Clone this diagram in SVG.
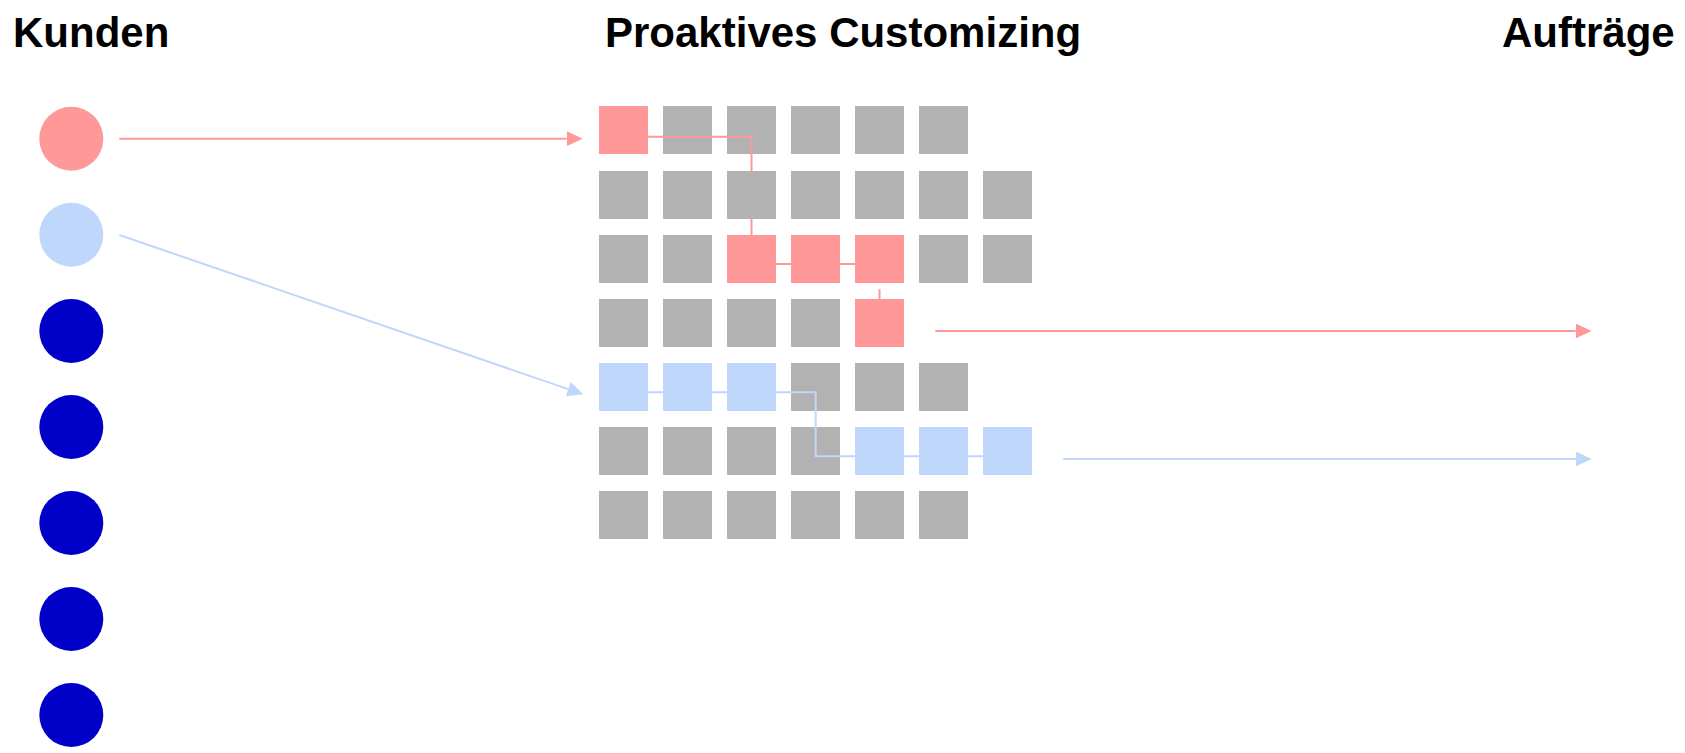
<svg xmlns="http://www.w3.org/2000/svg" width="1685" height="753" viewBox="0 0 1685 753">
<style>
.t{font-family:"Liberation Sans",Arial,sans-serif;font-weight:bold;font-size:42px;fill:#000}
.g{fill:#B2B2B2}
.p{fill:#FF9999}
.b{fill:#BFD7FA}
.d{fill:#0000C8}
.lp{stroke:#FF9999;stroke-width:2;fill:none}
.lb{stroke:#BFD7FA;stroke-width:2;fill:none}
</style>
<defs>
<marker id="ap" markerUnits="userSpaceOnUse" markerWidth="17" markerHeight="16" refX="0" refY="7.5" orient="auto" viewBox="0 0 17 16"><path d="M0,0 L16,7.5 L0,15 Z" fill="#FF9999"/></marker>
<marker id="ab" markerUnits="userSpaceOnUse" markerWidth="17" markerHeight="16" refX="0" refY="7.5" orient="auto" viewBox="0 0 17 16"><path d="M0,0 L16,7.5 L0,15 Z" fill="#BFD7FA"/></marker>
<symbol id="sq"><rect width="49" height="48"/></symbol>
</defs>
<rect width="1685" height="753" fill="#fff"/>
<g id="titles">
<text class="t" x="13" y="47">Kunden</text>
<text class="t" x="605" y="47">Proaktives Customizing</text>
<text class="t" x="1502" y="47">Aufträge</text>
</g>
<g id="kunden">
<circle id="k1" class="p" cx="71.3" cy="138.7" r="32"/>
<circle id="k2" class="b" cx="71.3" cy="234.7" r="32"/>
<circle id="k3" class="d" cx="71.3" cy="331" r="32"/>
<circle id="k4" class="d" cx="71.3" cy="427" r="32"/>
<circle id="k5" class="d" cx="71.3" cy="523" r="32"/>
<circle id="k6" class="d" cx="71.3" cy="619" r="32"/>
<circle id="k7" class="d" cx="71.3" cy="715" r="32"/>
</g>
<g id="grid">
<g id="row1">
<rect class="p" x="599" y="106" width="49" height="48"/>
<rect class="g" x="663" y="106" width="49" height="48"/>
<rect class="g" x="727" y="106" width="49" height="48"/>
<rect class="g" x="791" y="106" width="49" height="48"/>
<rect class="g" x="855" y="106" width="49" height="48"/>
<rect class="g" x="919" y="106" width="49" height="48"/>
</g>
<g id="row2">
<rect class="g" x="599" y="171" width="49" height="48"/>
<rect class="g" x="663" y="171" width="49" height="48"/>
<rect class="g" x="727" y="171" width="49" height="48"/>
<rect class="g" x="791" y="171" width="49" height="48"/>
<rect class="g" x="855" y="171" width="49" height="48"/>
<rect class="g" x="919" y="171" width="49" height="48"/>
<rect class="g" x="983" y="171" width="49" height="48"/>
</g>
<g id="row3">
<rect class="g" x="599" y="235" width="49" height="48"/>
<rect class="g" x="663" y="235" width="49" height="48"/>
<rect class="p" x="727" y="235" width="49" height="48"/>
<rect class="p" x="791" y="235" width="49" height="48"/>
<rect class="p" x="855" y="235" width="49" height="48"/>
<rect class="g" x="919" y="235" width="49" height="48"/>
<rect class="g" x="983" y="235" width="49" height="48"/>
</g>
<g id="row4">
<rect class="g" x="599" y="299" width="49" height="48"/>
<rect class="g" x="663" y="299" width="49" height="48"/>
<rect class="g" x="727" y="299" width="49" height="48"/>
<rect class="g" x="791" y="299" width="49" height="48"/>
<rect class="p" x="855" y="299" width="49" height="48"/>
</g>
<g id="row5">
<rect class="b" x="599" y="363" width="49" height="48"/>
<rect class="b" x="663" y="363" width="49" height="48"/>
<rect class="b" x="727" y="363" width="49" height="48"/>
<rect class="g" x="791" y="363" width="49" height="48"/>
<rect class="g" x="855" y="363" width="49" height="48"/>
<rect class="g" x="919" y="363" width="49" height="48"/>
</g>
<g id="row6">
<rect class="g" x="599" y="427" width="49" height="48"/>
<rect class="g" x="663" y="427" width="49" height="48"/>
<rect class="g" x="727" y="427" width="49" height="48"/>
<rect class="g" x="791" y="427" width="49" height="48"/>
<rect class="b" x="855" y="427" width="49" height="48"/>
<rect class="b" x="919" y="427" width="49" height="48"/>
<rect class="b" x="983" y="427" width="49" height="48"/>
</g>
<g id="row7">
<rect class="g" x="599" y="491" width="49" height="48"/>
<rect class="g" x="663" y="491" width="49" height="48"/>
<rect class="g" x="727" y="491" width="49" height="48"/>
<rect class="g" x="791" y="491" width="49" height="48"/>
<rect class="g" x="855" y="491" width="49" height="48"/>
<rect class="g" x="919" y="491" width="49" height="48"/>
</g>
</g>
<g id="connectors">
<path class="lp" d="M119.3,138.7 H566.7" marker-end="url(#ap)"/>
<path class="lb" d="M119.3,235 L568.2,389.1" marker-end="url(#ab)"/>
<path class="lp" d="M648,136.7 H751.5 V171 M751.5,218.7 V264 H879.5 M879.5,289 V299"/>
<path class="lb" d="M648,392.3 H815.7 V456.3 H983"/>
<path class="lp" d="M935.3,331 H1575.7" marker-end="url(#ap)"/>
<path class="lb" d="M1063.3,459 H1575.7" marker-end="url(#ab)"/>
</g>
</svg>
